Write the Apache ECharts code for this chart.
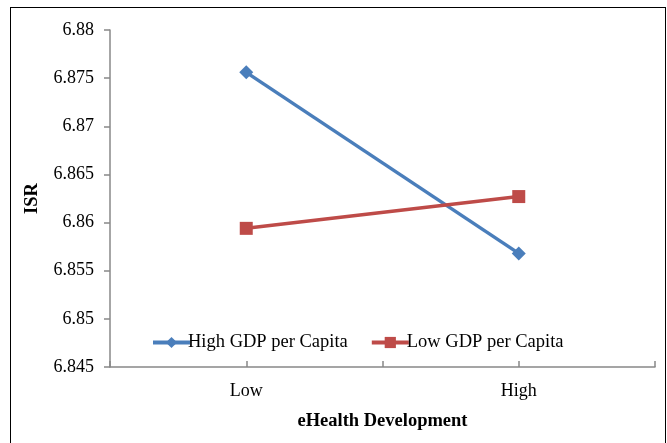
<!DOCTYPE html>
<html><head><meta charset="utf-8">
<script src="https://cdn.jsdelivr.net/npm/echarts@6/dist/echarts.min.js"></script>
<style>
html,body{margin:0;padding:0;background:#fff;}
#c{width:667px;height:443px;position:relative;}
#b{position:absolute;left:10px;top:7px;width:654px;height:450px;border:1.5px solid #000;pointer-events:none;}
</style></head>
<body><div id="c"></div><div id="b"></div>
<script>
const categories = ["", "Low", "", "High", ""];
const highGDP = [null, 6.8756, null, 6.8568, null];
const lowGDP = [null, 6.8594, null, 6.8627, null];
const yMin = 6.845, yMax = 6.88, yStep = 0.005;

const font = "'Liberation Serif', 'Times New Roman', serif";
const chart = echarts.init(document.getElementById('c'));
chart.setOption({
  animation: false,
  grid: {left: 110, right: 12, top: 30, bottom: 76},
  legend: {
    left: 146, top: 328, itemWidth: 37, itemHeight: 14, itemGap: 22,
    lineStyle: {width: 4},
    textStyle: {fontFamily: font, fontSize: 18.5, color: '#000', padding: [0,0,0,-7]},
    data: ['High GDP per Capita', 'Low GDP per Capita']
  },
  xAxis: {
    type: 'category', data: categories, boundaryGap: false,
    name: 'eHealth Development', nameLocation: 'middle', nameGap: 45,
    nameTextStyle: {fontFamily: font, fontSize: 18.5, fontWeight: 'bold', color: '#000'},
    axisLine: {lineStyle: {color: '#888', width: 1.5}},
    axisTick: {inside: true, length: 6, lineStyle: {color: '#888', width: 1.5}, alignWithLabel: true, interval: 0},
    axisLabel: {fontFamily: font, fontSize: 18, color: '#000', margin: 15, interval: 0},
    splitLine: {show: false}
  },
  yAxis: {
    type: 'value', min: yMin, max: yMax, interval: yStep,
    name: 'ISR', nameLocation: 'middle', nameGap: 68, nameRotate: 90,
    nameTextStyle: {fontFamily: font, fontSize: 18.5, fontWeight: 'bold', color: '#000'},
    axisLine: {show: true, lineStyle: {color: '#888', width: 1.5}},
    axisTick: {show: true, length: 6, lineStyle: {color: '#888', width: 1.5}},
    axisLabel: {fontFamily: font, fontSize: 18, color: '#000', margin: 16},
    splitLine: {show: false}
  },
  series: [
    {name: 'High GDP per Capita', type: 'line', data: highGDP, connectNulls: true,
     symbol: 'diamond', symbolSize: 14, color: '#4A7EBB',
     lineStyle: {width: 3.5, color: '#4A7EBB'}, itemStyle: {color: '#4A7EBB'}},
    {name: 'Low GDP per Capita', type: 'line', data: lowGDP, connectNulls: true,
     symbol: 'rect', symbolSize: 13, color: '#BE4B48',
     lineStyle: {width: 3.5, color: '#BE4B48'}, itemStyle: {color: '#BE4B48'}}
  ]
});
</script></body></html>
